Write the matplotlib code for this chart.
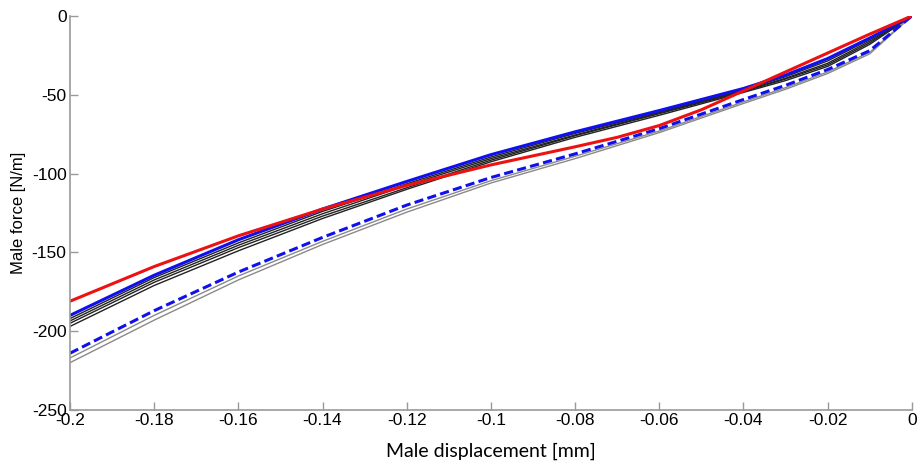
import matplotlib.pyplot as plt
from matplotlib.transforms import ScaledTranslation

# displacement [mm] and force [N/m]
disp = [-0.2, -0.18, -0.16, -0.14, -0.12, -0.1, -0.08, -0.06, -0.04, -0.03, -0.02, -0.01, 0]

black1 = [-192, -166, -144, -124, -106.5, -89.5, -74.5, -61, -47, -38.5, -28.5, -15, 0]
black2 = [-193.5, -167.5, -145.5, -125.5, -107.5, -90.5, -75.5, -61.5, -47.5, -39.5, -30, -16, 0]
black3 = [-195, -169, -147, -127, -109, -91.5, -76, -62, -48, -40, -31, -17, 0]
black4 = [-197, -171, -149, -128.5, -110, -92.5, -77, -63, -48.5, -41, -32, -18, 0]
gray1 = [-217, -190, -165, -143, -122.5, -104.5, -89, -73, -54.5, -45.5, -35.5, -23, 0]
gray2 = [-220, -193, -167.5, -145, -124.5, -106, -90.5, -74, -55.5, -46.5, -36.5, -24, 0]
blue_dashed = [-214, -187, -162.5, -140.5, -120, -102.5, -87.5, -71.5, -53, -44, -34, -22, 0]
blue_solid = [-190, -164.5, -142, -122.5, -105, -88, -73.5, -60, -46, -37.5, -27, -14, 0]

red_disp = [-0.2, -0.18, -0.16, -0.14, -0.12, -0.1, -0.08, -0.07, -0.06, -0.05, -0.04, -0.03, -0.02, -0.01, 0]
red_solid = [-181, -159, -139.5, -122.5, -107.5, -94.5, -83, -77, -69.5, -59.5, -47.5, -35.5, -23.5, -11.5, 0]

xticks = [-0.2, -0.18, -0.16, -0.14, -0.12, -0.1, -0.08, -0.06, -0.04, -0.02, 0]
xticklabels = ['-0.2', '-0.18', '-0.16', '-0.14', '-0.12', '-0.1', '-0.08', '-0.06', '-0.04', '-0.02', '0']
yticks = [-250, -200, -150, -100, -50, 0]

fig = plt.figure(figsize=(9.22, 4.70), dpi=100)
ax = fig.add_axes([0.0759, 0.1277, 0.9131, 0.8383])

for g in [gray1, gray2]:
    ax.plot(disp, g, color='#8a8a8a', lw=1.0)
for k in [black1, black2, black3, black4]:
    ax.plot(disp, k, color='#222222', lw=1.0)
ax.plot(disp, blue_dashed, color='#1010ee', lw=2.2, dashes=(3, 1.4))
ax.plot(disp, blue_solid, color='#1010ee', lw=2.2)
ax.plot(red_disp, red_solid, color='#ee1111', lw=2.2)

ax.set_xlim(-0.2, 0)
ax.set_ylim(-250, 0)
ax.set_xticks(xticks)
ax.set_xticklabels(xticklabels, family='Liberation Sans', fontsize=12.5)
ax.set_yticks(yticks)
ax.set_yticklabels([str(v) for v in yticks], family='Liberation Sans', fontsize=12.5)

# nudge the bottom y label a little so it does not sit on top of "-0.2"
lbl = ax.get_yticklabels()[0]
lbl.set_transform(lbl.get_transform() + ScaledTranslation(0, 4 / 72, fig.dpi_scale_trans))

for s in ['top', 'right']:
    ax.spines[s].set_visible(False)
for s in ['left', 'bottom']:
    ax.spines[s].set_color('#999999')
    ax.spines[s].set_linewidth(1.2)
ax.tick_params(axis='both', direction='in', length=6, color='#999999', width=1)
ax.tick_params(axis='y', pad=2.5)
ax.tick_params(axis='x', pad=2)

ax.set_xlabel('Male displacement [mm]', family='Lato', fontsize=14, labelpad=11)
ax.set_ylabel('Male force [N/m]', family='Liberation Sans', fontsize=12, labelpad=4)

fig.savefig('out.png', dpi=100)
